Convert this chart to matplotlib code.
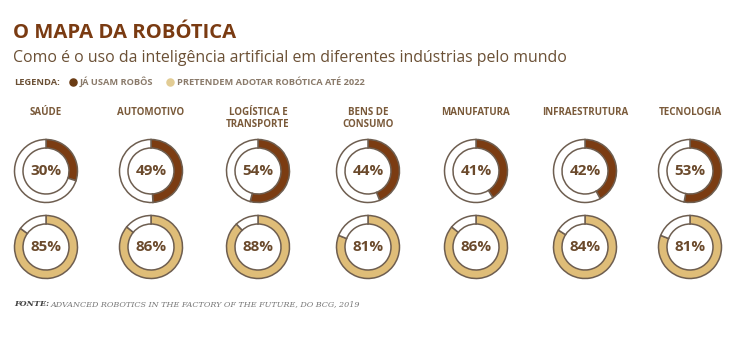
import matplotlib
matplotlib.use("Agg")
import matplotlib.pyplot as plt

# Data
industries = ["SAÚDE", "AUTOMOTIVO", "LOGÍSTICA E\nTRANSPORTE", "BENS DE\nCONSUMO",
              "MANUFATURA", "INFRAESTRUTURA", "TECNOLOGIA"]
ja_usam = [30, 49, 54, 44, 41, 42, 53]
pretendem = [85, 86, 88, 81, 86, 84, 81]

title = "O MAPA DA ROBÓTICA"
subtitle = "Como é o uso da inteligência artificial em diferentes indústrias pelo mundo"
legend_labels = ["JÁ USAM ROBÔS", "PRETENDEM ADOTAR ROBÓTICA ATÉ 2022"]
source = "ADVANCED ROBOTICS IN THE FACTORY OF THE FUTURE, DO BCG, 2019"

DARK = "#7b3c12"
TAN = "#dfbd78"
EDGE = "#6e5e50"
TEXT = "#6b4a2c"

plt.rcParams['font.family'] = ['Open Sans', 'DejaVu Sans']

W, H = 740, 350
fig = plt.figure(figsize=(7.4, 3.5), dpi=100)
ax = fig.add_axes([0, 0, 1, 1])

def Y(y):
    return H - y

col_x = [46, 151, 258, 368, 476, 585, 690]
row_y = [171, 247]
R, RW = 31.5, 8.5

for i, name in enumerate(industries):
    cx = col_x[i]
    ax.text(cx, Y(107), name, ha="center", va="top", fontsize=7,
            fontweight="bold", color="#7a5a3a", linespacing=1.15)
    for vals, color, ry in [(ja_usam, DARK, row_y[0]), (pretendem, TAN, row_y[1])]:
        v = vals[i]
        ax.pie([v, 100 - v], colors=[color, "white"], startangle=90, counterclock=False,
               center=(cx, Y(ry)), radius=R,
               wedgeprops=dict(width=RW, edgecolor=EDGE, linewidth=1.1))
        ax.text(cx, Y(ry), f"{v}%", ha="center", va="center", fontsize=11,
                fontweight="bold", color=TEXT)

ax.set_xlim(0, W)
ax.set_ylim(0, H)
ax.set_aspect("auto")
ax.axis("off")

# header
ax.text(13, Y(38.5), title, fontsize=14.6, fontweight="bold", color="#7a3b12",
        va="baseline")
ax.text(13, Y(62.5), subtitle, fontsize=11.4, color="#6b5035", va="baseline")

ax.text(14, Y(85), "LEGENDA:", fontsize=6.7, fontweight="bold", color="#6b5035",
        va="baseline")
ax.scatter([73], [Y(82)], s=26, color="#6b3c14")
ax.text(80, Y(85), legend_labels[0], fontsize=6.7, fontweight="bold", color="#8a7a6a",
        va="baseline")
ax.scatter([170], [Y(82)], s=26, color="#e2cc94")
ax.text(177, Y(85), legend_labels[1], fontsize=6.7, fontweight="bold", color="#8a7a6a",
        va="baseline")

# source
ax.text(14, Y(306), "FONTE:", fontsize=5.8, fontweight="bold", style="italic",
        family="DejaVu Serif", color="#444444", va="baseline")
ax.text(51, Y(306), source, fontsize=5.8, style="italic",
        family="DejaVu Serif", color="#777777", va="baseline")

fig.savefig("out.png", dpi=100, facecolor="white")
